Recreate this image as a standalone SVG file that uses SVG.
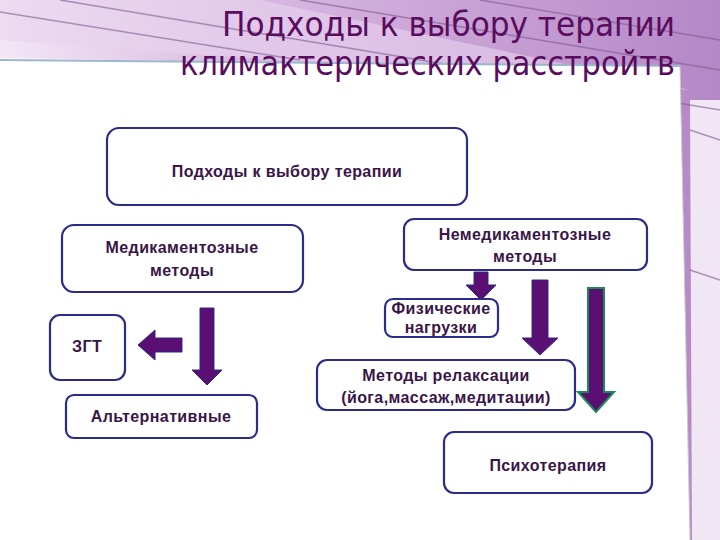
<svg xmlns="http://www.w3.org/2000/svg" width="720" height="540" viewBox="0 0 720 540">
<defs>
<style>
.box{fill:#fff;stroke:#2b2b8c;stroke-width:2.2}
.t{font-family:"Liberation Sans",Arial,sans-serif;font-size:16px;font-weight:bold;fill:#3a1548;text-anchor:middle;letter-spacing:0.4px}
.ttl{font-family:"DejaVu Sans Condensed","DejaVu Sans",sans-serif;font-size:34px;fill:#5a0d5e}
.ar{fill:#5b0f72;stroke:#2b2b8c;stroke-width:1}
.arg{fill:#5b0f72;stroke:#1a8a5a;stroke-width:2}
.st{stroke:#7e5a8e;stroke-width:1.5;fill:none;opacity:.6}
</style>
<linearGradient id="bg" x1="0" y1="0" x2="1" y2="0">
<stop offset="0" stop-color="#f3e6f6"/><stop offset="0.35" stop-color="#d9b8e2"/><stop offset="1" stop-color="#b487c6"/>
</linearGradient>
</defs>
<rect width="720" height="540" fill="#fff"/>
<polygon points="0,0 720,0 720,540 690,540 680,70 0,58" fill="url(#bg)"/>
<polygon points="0,0 260,0 690,90 0,40" fill="#e8d3ee" opacity=".6"/>
<polygon points="690,100 720,100 720,540 692,540" fill="#f1e6f4"/>
<g class="st">
<line x1="0" y1="12" x2="300" y2="60"/><line x1="60" y1="0" x2="720" y2="110"/>
<line x1="300" y1="0" x2="720" y2="70"/><line x1="480" y1="0" x2="720" y2="40"/>
<line x1="690" y1="130" x2="720" y2="140"/><line x1="690" y1="270" x2="720" y2="280"/>
</g>
<polygon points="0,60 680,66 690,540 0,540" fill="#fff"/>
<line x1="0" y1="60" x2="680" y2="66" stroke="#9bb8cc" stroke-width="2"/>
<line x1="680" y1="66" x2="690" y2="540" stroke="#c8c8c8" stroke-width="1"/>
<text class="ttl" x="222" y="36" textLength="453" lengthAdjust="spacingAndGlyphs">Подходы к выбору терапии</text>
<text class="ttl" x="180" y="75" textLength="495" lengthAdjust="spacingAndGlyphs">климактерических расстройтв</text>
<g id="connectors">
<polygon class="ar" points="474,272 488,272 488,285 496,285 481,300 466,285 474,285"/>
<polygon class="ar" points="532,280 548,280 548,338 558,338 540,355 522,338 532,338"/>
<polygon class="arg" points="588,288 604,288 604,392 614,392 596,412 578,392 588,392"/>
<polygon class="ar" points="200,308 214,308 214,370 222,370 207,385 192,370 200,370"/>
<polygon class="ar" points="182,338 182,352 155,352 155,360 138,345 155,330 155,338"/>
</g>
<g id="n1"><rect class="box" x="107" y="128" width="360" height="77" rx="12"/><text class="t" x="287" y="177">Подходы к выбору терапии</text></g>
<g id="n2"><rect class="box" x="62" y="225" width="241" height="67" rx="12"/><text class="t" x="182" y="253">Медикаментозные</text><text class="t" x="182" y="276">методы</text></g>
<g id="n3"><rect class="box" x="404" y="219" width="243" height="51" rx="10"/><text class="t" x="525" y="240">Немедикаментозные</text><text class="t" x="525" y="262">методы</text></g>
<g id="n4"><rect class="box" x="385" y="299" width="113" height="38" rx="8"/><text class="t" x="441" y="314">Физические</text><text class="t" x="441" y="333">нагрузки</text></g>
<g id="n5"><rect class="box" x="50" y="315" width="75" height="65" rx="10"/><text class="t" x="72" y="352" style="text-anchor:start">ЗГТ</text></g>
<g id="n6"><rect class="box" x="66" y="395" width="191" height="43" rx="8"/><text class="t" x="161" y="422">Альтернативные</text></g>
<g id="n7"><rect class="box" x="317" y="360" width="258" height="50" rx="10"/><text class="t" x="446" y="381">Методы релаксации</text><text class="t" x="446" y="403">(йога,массаж,медитации)</text></g>
<g id="n8"><rect class="box" x="444" y="432" width="208" height="61" rx="10"/><text class="t" x="548" y="471">Психотерапия</text></g>
</svg>
